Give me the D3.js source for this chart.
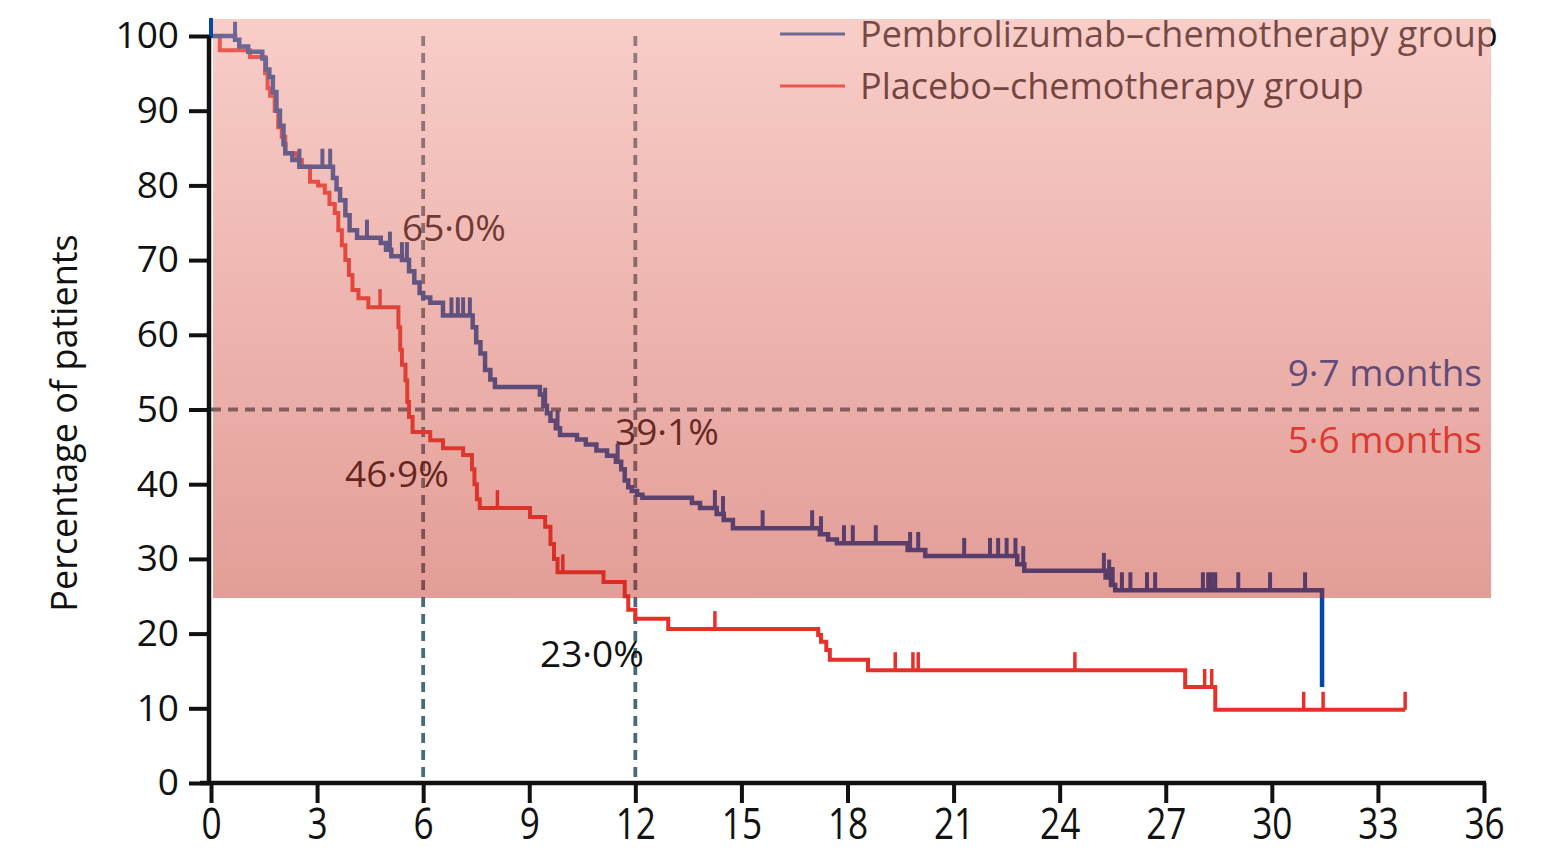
<!DOCTYPE html>
<meta charset="utf-8">
<script src="https://d3js.org/d3.v7.min.js"></script>
<style>
body { margin: 0; background: #fff; }
text { font-family: "Open Sans", sans-serif; }
</style>
<div id="km"></div>
<script>
// Kaplan-Meier steps: months, % of patients
var pembroTime = [0, 0.68, 0.8, 1.05, 1.45, 1.55, 1.65, 1.75, 1.85, 1.95, 2.05, 2.1, 2.3, 2.5, 3.45, 3.55, 3.65, 3.8, 3.92, 4.13, 4.8, 4.95, 5.1, 5.4, 5.6, 5.75, 5.9, 6.0, 6.2, 6.56, 7.4, 7.5, 7.62, 7.75, 7.9, 8.03, 9.3, 9.4, 9.5, 9.6, 9.75, 9.87, 10.35, 10.6, 10.9, 11.2, 11.45, 11.6, 11.7, 11.8, 11.9, 12.05, 12.2, 13.6, 13.83, 14.3, 14.5, 14.76, 17.22, 17.45, 17.7, 19.7, 20.2, 22.8, 23.0, 25.3, 25.45, 25.57, 31.42];
var pembroPct = [100, 99.5, 98.6, 97.9, 97, 95.5, 94.5, 92.5, 90, 88, 85.5, 84.3, 83.4, 82.5, 81, 79.5, 78, 76, 74, 73, 72.3, 71.4, 70.5, 70, 68.5, 67, 65.6, 65.0, 64.3, 62.6, 61, 59, 57.5, 55.3, 54, 53, 52, 50.5, 49.5, 48.5, 47.5, 46.6, 46, 45.3, 44.5, 43.8, 43, 42, 40.5, 39.6, 39.1, 38.6, 38.2, 37.5, 36.8, 36, 35.2, 34.1, 33.3, 32.6, 32.1, 31.2, 30.4, 29.3, 28.4, 27.5, 26.5, 25.8, 12.85];
var pembroCensor = [0, 0.68, 2.5, 3.15, 3.37, 4.41, 5.06, 5.4, 5.54, 6.8, 6.98, 7.13, 7.32, 9.45, 9.8, 11.5, 14.25, 14.48, 15.6, 17.0, 17.25, 17.9, 18.15, 18.8, 19.77, 20.0, 21.3, 22.03, 22.26, 22.5, 22.75, 22.97, 25.25, 25.4, 25.5, 25.76, 26.0, 26.47, 26.7, 28.05, 28.2, 28.3, 28.4, 29.05, 29.95, 30.94];

var placeboTime = [0, 0.25, 1.1, 1.53, 1.6, 1.67, 1.8, 1.9, 2.0, 2.1, 2.43, 2.57, 2.8, 3.03, 3.22, 3.35, 3.5, 3.6, 3.7, 3.8, 3.9, 4.0, 4.17, 4.45, 5.3, 5.35, 5.4, 5.5, 5.55, 5.6, 5.7, 6.2, 6.56, 7.13, 7.38, 7.45, 7.52, 7.6, 9.02, 9.45, 9.6, 9.7, 9.8, 11.1, 11.7, 11.8, 12.0, 12.93, 17.17, 17.25, 17.4, 17.5, 18.58, 27.55, 28.4, 33.77];
var placeboPct = [100, 98.1, 97.2, 95, 93, 92, 90, 87.8, 86.5, 84.3, 83.4, 82.5, 80.5, 80, 79, 77.5, 76.3, 74, 72, 70, 68, 66, 64.9, 63.7, 61, 58, 56, 53.9, 51, 49, 47, 45.9, 44.8, 43.9, 42, 40, 38, 36.8, 35.6, 34.3, 32, 30, 28.2, 26.9, 25, 23.2, 22, 20.6, 19.8, 18.9, 17.8, 16.5, 15.1, 12.85, 9.8, 9.8];
var placeboCensor = [4.78, 8.1, 9.95, 14.25, 19.35, 19.85, 20.0, 24.43, 28.1, 28.3, 30.9, 31.45, 33.77];

var xTicks = [0, 3, 6, 9, 12, 15, 18, 21, 24, 27, 30, 33, 36];
var yTicks = [0, 10, 20, 30, 40, 50, 60, 70, 80, 90, 100];
var markTimes = [6, 12];
var groupNames = ["Pembrolizumab\u2013chemotherapy group", "Placebo\u2013chemotherapy group"];
var medianLabels = ["9\u00b77 months", "5\u00b76 months"];
var pointLabels = [
  {t: 6, s: 65.0, text: "65\u00b70%"},
  {t: 6, s: 46.9, text: "46\u00b79%"},
  {t: 12, s: 39.1, text: "39\u00b71%"},
  {t: 12, s: 23.0, text: "23\u00b70%"}
];

var W = 1542, H = 853;
var blue = "#0049a6", red = "#e8302a", dashCol = "#476b79";

var svg = d3.select("#km").append("svg")
  .attr("width", W).attr("height", H);

var x = d3.scaleLinear().domain([0, 36]).range([211, 1484]);
var y = d3.scaleLinear().domain([0, 100]).range([783, 36]);

// axes
var xAxis = svg.append("g")
  .attr("transform", "translate(0," + y(0) + ")")
  .call(d3.axisBottom(x).tickValues(xTicks).tickSize(20).tickPadding(5).tickSizeOuter(0));
xAxis.select(".domain").attr("stroke", "#111").attr("stroke-width", 4.5)
  .attr("d", "M" + (x(0) - 11) + ",0H" + (x(36) + 2));
xAxis.selectAll(".tick line").attr("stroke", "#111").attr("stroke-width", 4);
xAxis.selectAll(".tick text")
  .style("font-size", "44px").attr("fill", "#111")
  .attr("transform", "scale(0.8,1)");

var yAxis = svg.append("g")
  .attr("transform", "translate(" + (x(0) - 2) + ",0)")
  .call(d3.axisLeft(y).tickValues(yTicks).tickSize(20).tickPadding(10).tickSizeOuter(0));
yAxis.select(".domain").attr("stroke", "#111").attr("stroke-width", 4.5)
  .attr("d", "M0," + y(100) + "V" + (y(0) + 2));
yAxis.selectAll(".tick line").attr("stroke", "#111").attr("stroke-width", 4);
yAxis.selectAll(".tick text").style("font-size", "37px").attr("fill", "#111");

svg.append("text")
  .attr("transform", "translate(77," + 423 + ") rotate(-90)")
  .attr("text-anchor", "middle")
  .style("font-size", "36px").attr("fill", "#111")
  .text("Percentage of patients");

// reference lines
svg.selectAll("line.vmark").data(markTimes).enter().append("line")
  .attr("class", "vmark")
  .attr("x1", function(d){ return x(d); }).attr("x2", function(d){ return x(d); })
  .attr("y1", y(100)).attr("y2", y(0))
  .attr("stroke", dashCol).attr("stroke-width", 3.8).attr("stroke-dasharray", "10,7");
svg.append("line")
  .attr("x1", x(0)).attr("x2", x(36)).attr("y1", y(50)).attr("y2", y(50))
  .attr("stroke", dashCol).attr("stroke-width", 3.8).attr("stroke-dasharray", "10,7");

// curves
var line = d3.line().curve(d3.curveStepAfter)
  .x(function(d){ return x(d[0]); }).y(function(d){ return y(d[1]); });

function drawGroup(times, pcts, censor, col, w) {
  var pts = times.map(function(t, i){ return [t, pcts[i]]; });
  svg.append("path").datum(pts)
    .attr("d", line).attr("fill", "none")
    .attr("stroke", col).attr("stroke-width", w).attr("stroke-linejoin", "miter");
  var bis = d3.bisector(function(d){ return d; }).right;
  svg.append("g").selectAll("line").data(censor).enter().append("line")
    .attr("x1", function(d){ return x(d); }).attr("x2", function(d){ return x(d); })
    .attr("y1", function(d){ var i = Math.max(0, bis(times, d) - 1); return y(pcts[i]); })
    .attr("y2", function(d){ var i = Math.max(0, bis(times, d) - 1); return y(pcts[i]) - 18; })
    .attr("stroke", col).attr("stroke-width", w - 0.5);
}
drawGroup(placeboTime, placeboPct, placeboCensor, red, 4);
drawGroup(pembroTime, pembroPct, pembroCensor, blue, 4.5);

// annotations
var labelPos = [[402, 241], [345, 487], [615, 445], [540, 667]];
svg.selectAll("text.pt").data(pointLabels).enter().append("text")
  .attr("class", "pt")
  .attr("x", function(d, i){ return labelPos[i][0]; })
  .attr("y", function(d, i){ return labelPos[i][1]; })
  .style("font-size", "37px").attr("fill", "#111")
  .text(function(d){ return d.text; });

svg.selectAll("text.med").data(medianLabels).enter().append("text")
  .attr("class", "med")
  .attr("x", 1482).attr("y", function(d, i){ return [386, 453][i]; })
  .attr("text-anchor", "end")
  .style("font-size", "37px")
  .attr("fill", function(d, i){ return [blue, red][i]; })
  .text(function(d){ return d; });

// legend
var leg = svg.append("g");
leg.selectAll("line").data(groupNames).enter().append("line")
  .attr("x1", 780).attr("x2", 845)
  .attr("y1", function(d, i){ return 34 + i * 52; })
  .attr("y2", function(d, i){ return 34 + i * 52; })
  .attr("stroke", function(d, i){ return [blue, red][i]; })
  .attr("stroke-width", 3);
leg.selectAll("text").data(groupNames).enter().append("text")
  .attr("x", 860).attr("y", function(d, i){ return 47 + i * 52; })
  .style("font-size", "36px").attr("fill", "#111")
  .text(function(d){ return d; });

// translucent red panel laid over the upper part of the plot
var grad = svg.append("defs").append("linearGradient")
  .attr("id", "panel").attr("x1", 0).attr("x2", 0).attr("y1", 0).attr("y2", 1);
grad.append("stop").attr("offset", "0%").attr("stop-color", "rgb(240,144,133)");
grad.append("stop").attr("offset", "100%").attr("stop-color", "rgb(193,38,24)");
svg.append("rect")
  .attr("x", 213).attr("y", 19).attr("width", 1491 - 213).attr("height", 598 - 19)
  .attr("fill", "url(#panel)").attr("fill-opacity", 0.45);
</script>
